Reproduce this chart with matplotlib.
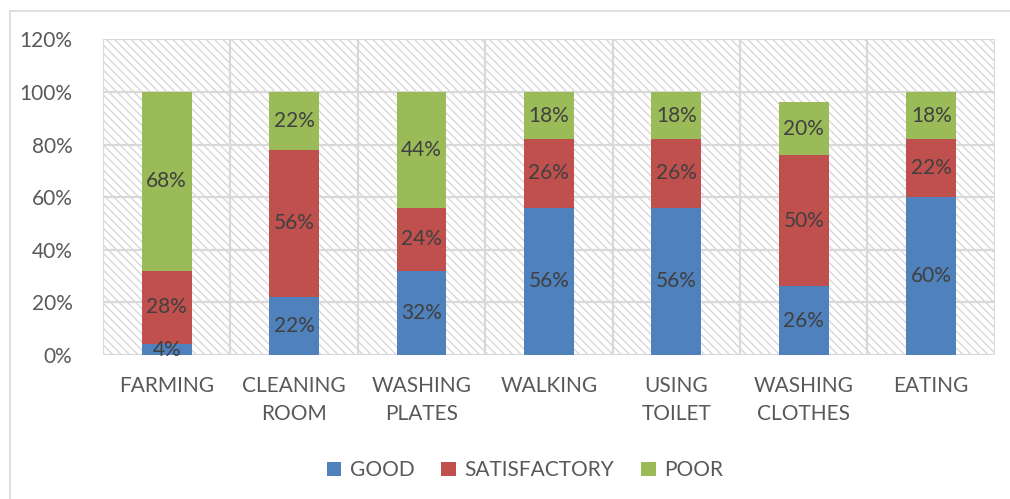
import matplotlib.pyplot as plt
import numpy as np
from matplotlib.patches import Rectangle

categories = ["FARMING", "CLEANING\nROOM", "WASHING\nPLATES", "WALKING",
              "USING\nTOILET", "WASHING\nCLOTHES", "EATING"]
good = [4, 22, 32, 56, 56, 26, 60]
satisfactory = [28, 56, 24, 26, 26, 50, 22]
poor = [68, 22, 44, 18, 18, 20, 18]
y_ticks = [0, 20, 40, 60, 80, 100, 120]

series = [("GOOD", good, "#4f81bd"),
          ("SATISFACTORY", satisfactory, "#c0504d"),
          ("POOR", poor, "#9bbb59")]

plt.rcParams["font.family"] = ["Lato", "DejaVu Sans"]
plt.rcParams["hatch.linewidth"] = 1.0
plt.rcParams["hatch.color"] = "#d8d8d8"

fig = plt.figure(figsize=(10.1, 4.99), dpi=100)
ax = fig.add_axes([0.102, 0.289, 0.883, 0.632])

# outer chart frame
fig.patches.append(Rectangle((0.01, -0.05), 1.2, 1.028, transform=fig.transFigure,
                             fill=False, edgecolor="#d9d9d9", linewidth=1.2))

n = len(categories)
x = np.arange(n)
ax.set_xlim(-0.5, n - 0.5)
ax.set_ylim(0, 120)

# hatched plot background
ax.add_patch(Rectangle((-0.5, 0), n, 120, facecolor="white", hatch="\\\\\\\\",
                       edgecolor="#d8d8d8", linewidth=0, zorder=0))
for y in y_ticks:
    ax.axhline(y, color="#d9d9d9", linewidth=1.6, zorder=1)
for b in np.arange(-0.5, n, 1.0):
    ax.axvline(b, color="#d9d9d9", linewidth=1.6, zorder=1)

bottom = np.zeros(n)
for name, vals, color in series:
    vals = np.array(vals, dtype=float)
    ax.bar(x, vals, 0.39, bottom=bottom, color=color, label=name, zorder=3)
    for xi, b0, v in zip(x, bottom, vals):
        ax.text(xi, b0 + v / 2, f"{v:.0f}%", ha="center", va="center",
                fontsize=15, color="#404040", zorder=4)
    bottom += vals

for s in ax.spines.values():
    s.set_visible(False)
ax.set_yticks(y_ticks)
ax.set_yticklabels([f"{v}%" for v in y_ticks], fontsize=15, color="#595959")
ax.set_xticks(x)
ax.set_xticklabels(categories, fontsize=15, color="#595959", linespacing=1.5)
ax.tick_params(length=0, pad=15)
ax.tick_params(axis="y", pad=22)

ax.legend(loc="upper center", bbox_to_anchor=(0.473, -0.275), ncol=3, frameon=False,
          fontsize=15, labelcolor="#595959", handlelength=0.7, handleheight=0.7,
          columnspacing=1.3, handletextpad=0.4)

fig.savefig("out.png", dpi=100)
